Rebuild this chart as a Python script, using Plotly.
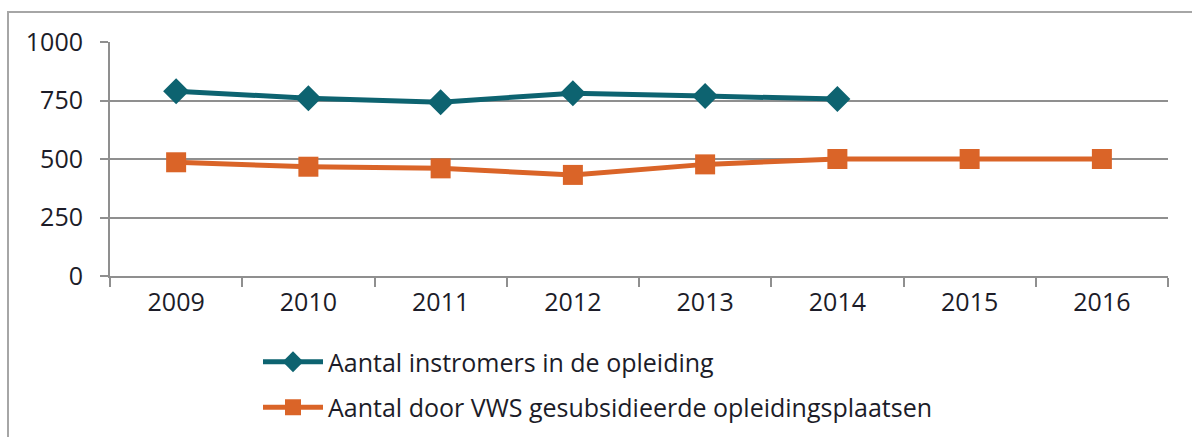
import plotly.graph_objects as go

years = ["2009", "2010", "2011", "2012", "2013", "2014", "2015", "2016"]
instromers = [790, 760, 743, 781, 769, 756, None, None]
gesubsidieerd = [486, 467, 460, 432, 477, 500, 500, 500]
y_ticks = [0, 250, 500, 750, 1000]

name_instromers = "Aantal instromers in de opleiding"
name_gesubsidieerd = "Aantal door VWS gesubsidieerde opleidingsplaatsen"

teal = "#0d6370"
orange = "#da6428"
grid = "#8f8f8f"
font = "Open Sans"
fs = 25

W, H = 1192, 437
L, R, T, B = 110, 24, 42, 161
pw, ph = W - L - R, H - T - B

fig = go.Figure()
fig.add_trace(go.Scatter(
    x=years, y=instromers, name=name_instromers, mode="lines+markers",
    line=dict(color=teal, width=5),
    marker=dict(symbol="diamond", size=20, color=teal),
    legendgroup="a",
))
fig.add_trace(go.Scatter(
    x=years, y=gesubsidieerd, name=name_gesubsidieerd, mode="lines+markers",
    line=dict(color=orange, width=5),
    marker=dict(symbol="square", size=20, color=orange),
    legendgroup="b",
))

# outer frame of the figure
def px_x(v):
    return (v - L) / pw

def px_y(v):
    return (H - B - v) / ph

fig.add_shape(type="rect", xref="paper", yref="paper",
              x0=px_x(8), x1=px_x(1205), y0=px_y(450), y1=px_y(12),
              line=dict(color="#a6a6a6", width=2), layer="below")

fig.update_layout(
    width=W, height=H,
    margin=dict(l=L, r=R, t=T, b=B, autoexpand=False),
    paper_bgcolor="white", plot_bgcolor="white",
    font=dict(family=font, size=fs, color="#1c1c28"),
    showlegend=True,
    legend=dict(
        xref="container", yref="container",
        x=258 / W, y=1 - 339 / H, xanchor="left", yanchor="top",
        orientation="v", traceorder="grouped", tracegroupgap=10,
        font=dict(size=fs), itemwidth=60, bgcolor="rgba(0,0,0,0)",
    ),
    xaxis=dict(
        type="category", range=[-0.5, 7.5],
        showline=True, linecolor=grid, linewidth=2,
        ticks="outside", tickson="boundaries", ticklen=9, tickcolor=grid, tickwidth=2,
        showgrid=False, tickfont=dict(size=fs), ticklabelstandoff=3,
    ),
    yaxis=dict(
        range=[0, 1000], tickvals=y_ticks,
        showline=True, linecolor=grid, linewidth=2,
        ticks="outside", ticklen=8, tickcolor=grid, tickwidth=2,
        showgrid=True, gridcolor=grid, gridwidth=2,
        zeroline=False, tickfont=dict(size=fs), ticklabelstandoff=12,
    ),
)

fig.write_html("out.html")
